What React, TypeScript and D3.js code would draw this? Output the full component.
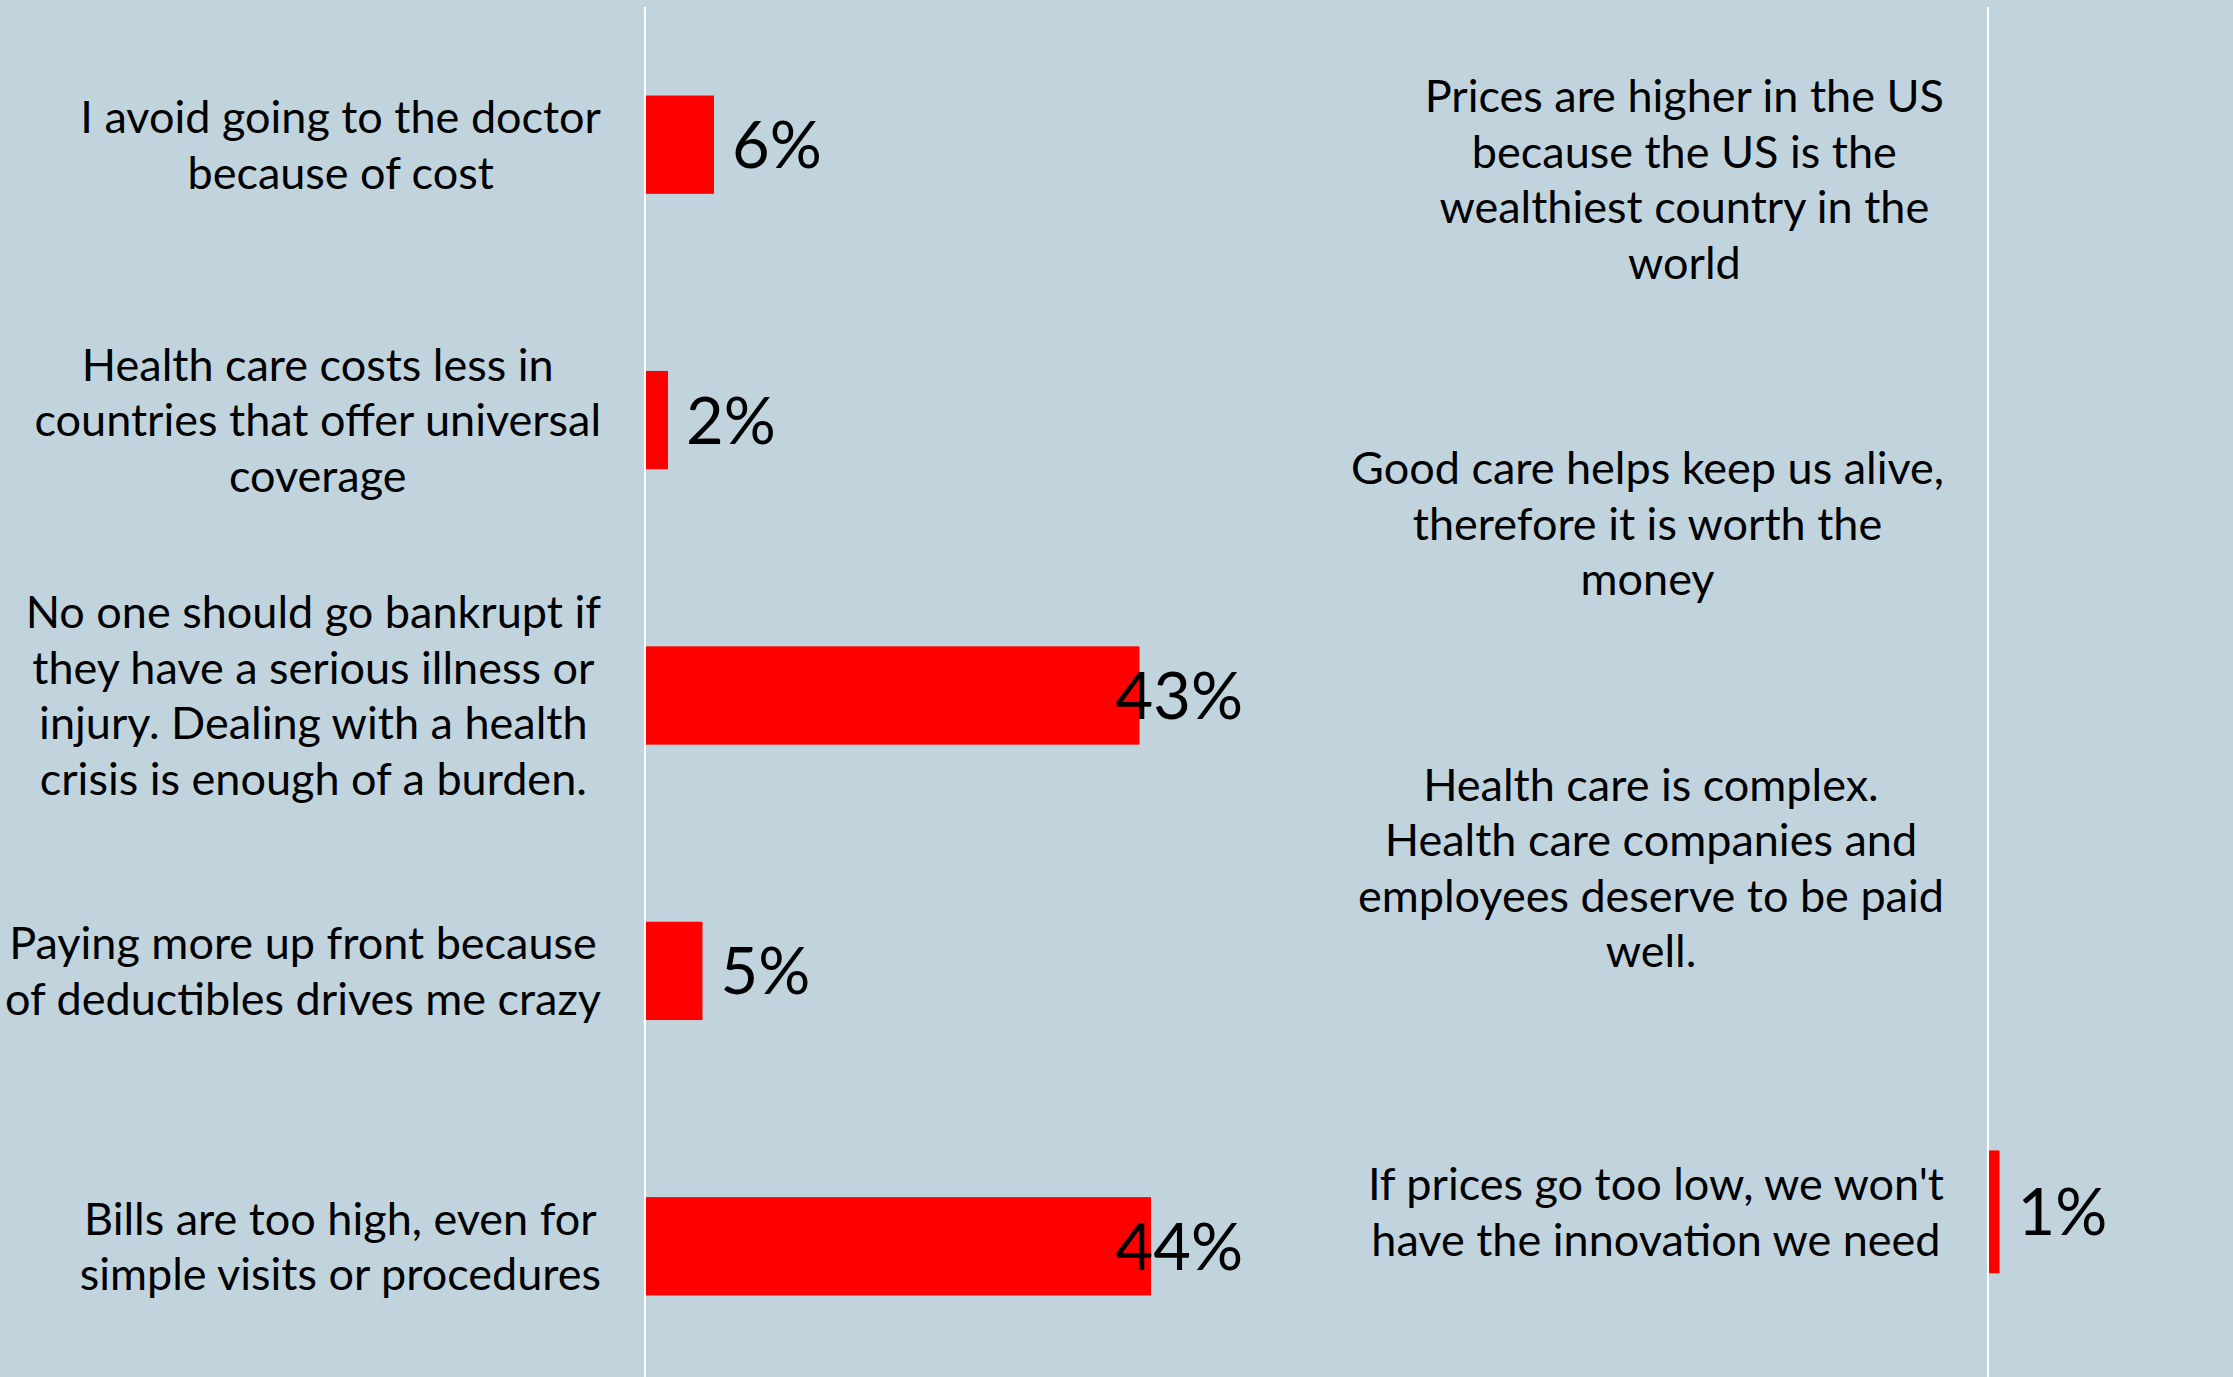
import React, { useRef, useEffect } from 'react';
import * as d3 from 'd3';

const width = 2233;
const height = 1377;
const bgColor = '#c1d4de';
const barColor = '#ff0000';
const fontFamily = 'Lato, "Noto Sans", sans-serif';

// left panel: what people feel about costs
const leftLabels = [
  ['I avoid going to the doctor', 'because of cost'],
  ['Health care costs less in', 'countries that offer universal', 'coverage'],
  ['No one should go bankrupt if', 'they have a serious illness or', 'injury. Dealing with a health', 'crisis is enough of a burden.'],
  ['Paying more up front because', 'of deductibles drives me crazy'],
  ['Bills are too high, even for', 'simple visits or procedures'],
];
const leftValues = [6, 2, 43, 5, 44];

// right panel: justifications
const rightLabels = [
  ['Prices are higher in the US', 'because the US is the', 'wealthiest country in the', 'world'],
  ['Good care helps keep us alive,', 'therefore it is worth the', 'money'],
  ['Health care is complex.', 'Health care companies and', 'employees deserve to be paid', 'well.'],
  ["If prices go too low, we won't", 'have the innovation we need'],
];
const rightValues: (number | null)[] = [null, null, null, 1];

const App: React.FC = () => {
  const svgRef = useRef<SVGSVGElement>(null);

  useEffect(() => {
    if (!svgRef.current) return;
    const svg = d3.select(svgRef.current);
    svg.selectAll('*').remove();

    svg.append('rect')
      .attr('width', width)
      .attr('height', height)
      .attr('fill', bgColor);

    const lineHeight = 55.5;
    const labelSize = 45;
    const valueSize = 65;

    const drawPanel = (labels: string[][], values: (number | null)[], axisX: number, clampRight: number) => {
      const g = svg.append('g');

      const y = d3.scaleBand<number>()
        .domain(labels.map((_, i) => i))
        .range([7, 1384])
        .paddingInner(0.643)
        .paddingOuter(0.3215);

      const x = d3.scaleLinear()
        .domain([0, 50])
        .range([axisX, axisX + 575]);

      // bars
      values.forEach((v, i) => {
        if (v == null) return;
        g.append('rect')
          .attr('x', x(0) + 1)
          .attr('y', y(i)!)
          .attr('width', x(v) - x(0) - 1)
          .attr('height', y.bandwidth())
          .attr('fill', barColor);
      });

      // axis line
      g.append('line')
        .attr('x1', axisX)
        .attr('x2', axisX)
        .attr('y1', 7)
        .attr('y2', height)
        .attr('stroke', '#ffffff')
        .attr('stroke-width', 2);

      // category labels, lines centred in a block right-aligned to the axis
      const labelRight = axisX - 44;
      labels.forEach((lines, i) => {
        const cy = y(i)! + y.bandwidth() / 2;
        const text = g.append('text')
          .attr('font-family', fontFamily)
          .attr('font-size', labelSize)
          .attr('fill', '#000')
          .attr('text-anchor', 'middle');
        const spans = lines.map((line, j) =>
          text.append('tspan')
            .attr('y', cy + (j - (lines.length - 1) / 2) * lineHeight)
            .attr('dy', '0.36em')
            .text(line)
        );
        const maxW = d3.max(spans, s => (s.node() as SVGTSpanElement).getComputedTextLength()) || 0;
        spans.forEach(s => s.attr('x', labelRight - maxW / 2));
      });

      // value labels
      values.forEach((v, i) => {
        if (v == null) return;
        const cy = y(i)! + y.bandwidth() / 2;
        const t = g.append('text')
          .attr('font-family', fontFamily)
          .attr('font-size', valueSize)
          .attr('fill', '#000')
          .attr('y', cy)
          .attr('dy', '0.36em')
          .text(`${v}%`);
        const w = (t.node() as SVGTextElement).getComputedTextLength();
        let lx = x(v) + 18;
        if (lx + w > clampRight) lx = clampRight - w;
        t.attr('x', lx);
      });
    };

    drawPanel(leftLabels, leftValues, 645, 1243);
    drawPanel(rightLabels, rightValues, 1988, width);
  }, []);

  return (
    <svg
      ref={svgRef}
      width={width}
      height={height}
      style={{ position: 'absolute', left: 0, top: 0, display: 'block' }}
    ></svg>
  );
};

export default App;
